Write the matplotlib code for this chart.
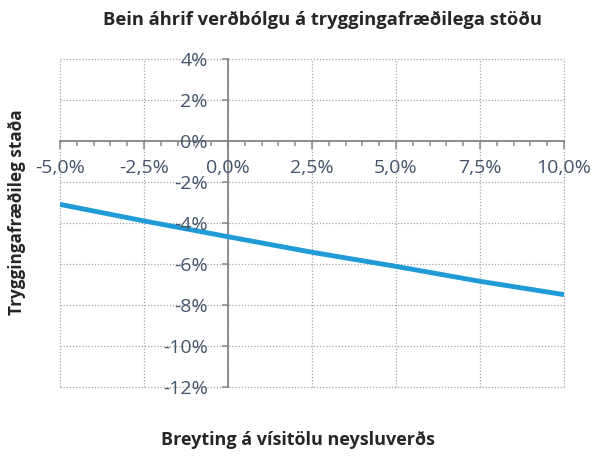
import matplotlib
matplotlib.use("Agg")
import matplotlib.pyplot as plt
from matplotlib.ticker import MultipleLocator, FuncFormatter

# Data
inflation = [-5.0, -2.5, 0.0, 2.5, 5.0, 7.5, 10.0]
position = [-3.09, -3.90, -4.67, -5.43, -6.12, -6.85, -7.50]

title = "Bein áhrif verðbólgu á tryggingafræðilega stöðu"
xlabel = "Breyting á vísitölu neysluverðs"
ylabel = "Tryggingafræðileg staða"

plt.rcParams['font.family'] = ['Open Sans', 'DejaVu Sans']

fig = plt.figure(figsize=(5.92, 4.57), dpi=100)
ax = fig.add_axes([60/592, 1-386.7/457, (564-60)/592, (386.7-59.3)/457])

ax.set_xlim(-5, 10)
ax.set_ylim(-12, 4)

grid_c = '#a6a6a6'
for gx in [-5, -2.5, 0, 2.5, 5, 7.5, 10]:
    ax.axvline(gx, color=grid_c, lw=0.9, ls=(0, (1, 1.5)), zorder=1, clip_on=False)
for gy in range(-12, 5, 2):
    ax.axhline(gy, color=grid_c, lw=0.9, ls=(0, (1, 1.5)), zorder=1, clip_on=False)

ax.plot(inflation, position, color='#1f9bd7', lw=3.5, zorder=2, solid_capstyle='butt')

for s in ['top', 'right']:
    ax.spines[s].set_visible(False)
ax.spines['left'].set_position(('data', 0))
ax.spines['bottom'].set_position(('data', 0))
for s in ['left', 'bottom']:
    ax.spines[s].set_color('#868686')
    ax.spines[s].set_linewidth(1.3)
    ax.spines[s].set_zorder(1.5)

ax.xaxis.set_major_locator(MultipleLocator(2.5))
ax.xaxis.set_minor_locator(MultipleLocator(0.5))
ax.yaxis.set_major_locator(MultipleLocator(2))

ax.xaxis.set_major_formatter(FuncFormatter(lambda v, p: f"{v:.1f}%".replace('.', ',')))
ax.yaxis.set_major_formatter(FuncFormatter(lambda v, p: f"{int(round(v))}%"))

lab_c = '#44546a'
ax.tick_params(axis='x', which='major', direction='out', length=6, width=1.1, color='#868686',
               labelsize=14, labelcolor=lab_c, pad=7)
ax.tick_params(axis='x', which='minor', direction='out', length=3.5, width=1.1, color='#868686')
ax.tick_params(axis='y', which='major', direction='out', length=4.5, width=1.1, color='#868686',
               labelsize=14, labelcolor=lab_c, pad=10)
ax.set_axisbelow(False)
for lab in ax.get_xticklabels() + ax.get_yticklabels():
    lab.set_zorder(5)

fig.text(322/592, 1-20/457, title, ha='center', va='center', fontsize=13.2, fontweight='bold', color='#262626')
fig.text(298/592, 1-440/457, xlabel, ha='center', va='center', fontsize=13, fontweight='bold', color='#262626')
fig.text(17/592, 1-212/457, ylabel, ha='center', va='center', rotation=90, fontsize=12.3, fontweight='bold', color='#262626')

fig.savefig('out.png', dpi=100)
